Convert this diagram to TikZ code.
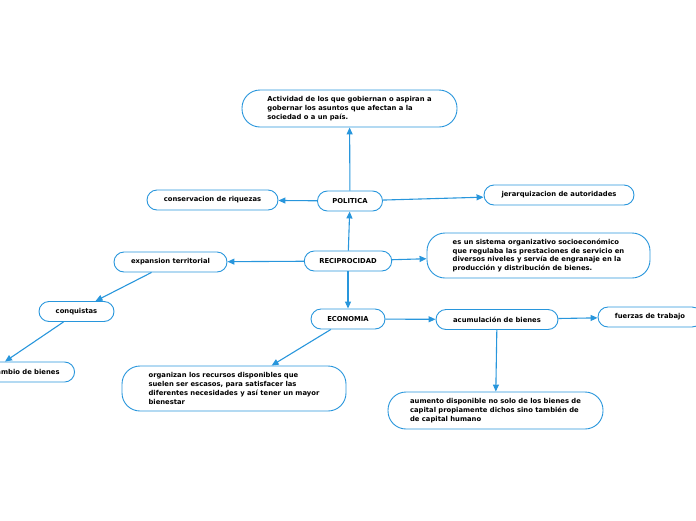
\documentclass[tikz,border=0pt]{standalone}
\usepackage{fontspec}
\setmainfont{DejaVu Sans}
\usetikzlibrary{arrows.meta,positioning}

\definecolor{mapblue}{RGB}{40,150,220}

\tikzset{
  topic/.style={draw=mapblue, line width=0.9pt, fill=white, rounded corners=10pt,
    minimum height=20pt, inner xsep=15pt, inner ysep=2pt,
    font=\fontsize{6.8}{8.7}\selectfont\bfseries},
  bigtopic/.style={topic, rounded corners=18pt, align=left},
  link/.style={draw=mapblue, line width=1.1pt, -{Triangle[length=7pt,width=6pt]}}
}

\begin{document}
\begin{tikzpicture}[x=1pt,y=-1pt]
    \useasboundingbox (0,0) rectangle (696,520);
    \clip (0,0) rectangle (696,520);

    % centre
    \node[topic] (recip) at (348,261) {RECIPROCIDAD};

    % politica branch
    \node[topic] (pol) at (350,201) {POLITICA};
    \node[bigtopic, minimum width=215pt, minimum height=37pt] (def) at (349.5,108.5)
      {Actividad de los que gobiernan o aspiran a\\gobernar los asuntos que afectan a la\\sociedad o a un país.};
    \node[topic, minimum width=131pt] (cons) at (212.5,200) {conservacion de riquezas};
    \node[topic, minimum width=150pt] (jer) at (559,195) {jerarquizacion de autoridades};

    % right side
    \node[bigtopic, minimum width=223pt, minimum height=45pt] (sist) at (538.5,255.5)
      {es un sistema organizativo socioeconómico\\que regulaba las prestaciones de servicio en\\diversos niveles y servía de engranaje en la\\producción y distribución de bienes.};

    % left side
    \node[topic, minimum width=113pt] (exp) at (170.5,262) {expansion territorial};
    \node[topic, minimum width=75pt] (conq) at (76.5,311.5) {conquistas};
    \node[topic, anchor=east] (camb) at (75,372) {intercambio de bienes};
    \coordinate (expfoot) at ([xshift=-19pt]exp.south);
    \coordinate (conqtop) at ([xshift=19pt]conq.north);
    \coordinate (conqfoot) at ([xshift=-13pt]conq.south);
    \coordinate (cambtop) at (camb.north east -| 5,0);

    % economia branch
    \node[topic, minimum width=74pt] (eco) at (348,319) {ECONOMIA};
    \node[topic, minimum width=122pt] (acum) at (497,319.5) {acumulación de bienes};
    \node[topic, minimum width=104pt] (fuer) at (650,317) {fuerzas de trabajo};
    \node[bigtopic, minimum width=224pt, minimum height=45pt] (org) at (234,388.5)
      {organizan los recursos disponibles que\\suelen ser escasos, para satisfacer las\\diferentes necesidades y así tener un mayor\\bienestar};
    \node[bigtopic, minimum width=215pt, minimum height=37pt] (aum) at (495.5,410.5)
      {aumento disponible no solo de los bienes de\\capital propiamente dichos sino también de\\de capital humano};

    % connectors
    \draw[link] (recip) -- (pol);
    \draw[link] (pol) -- (def);
    \draw[link] (pol) -- (cons);
    \draw[link] (pol) -- (jer);
    \draw[link] (recip) -- (sist);
    \draw[link] (recip) -- (exp);
    \draw[link] (recip) -- (eco);
    \draw[link] (expfoot) -- (conqtop);
    \draw[link] (conqfoot) -- (cambtop);
    \draw[link] (eco) -- (acum);
    \draw[link] (eco) -- (org);
    \draw[link] (acum) -- (fuer);
    \draw[link] (acum) -- (aum);
\end{tikzpicture}
\end{document}
